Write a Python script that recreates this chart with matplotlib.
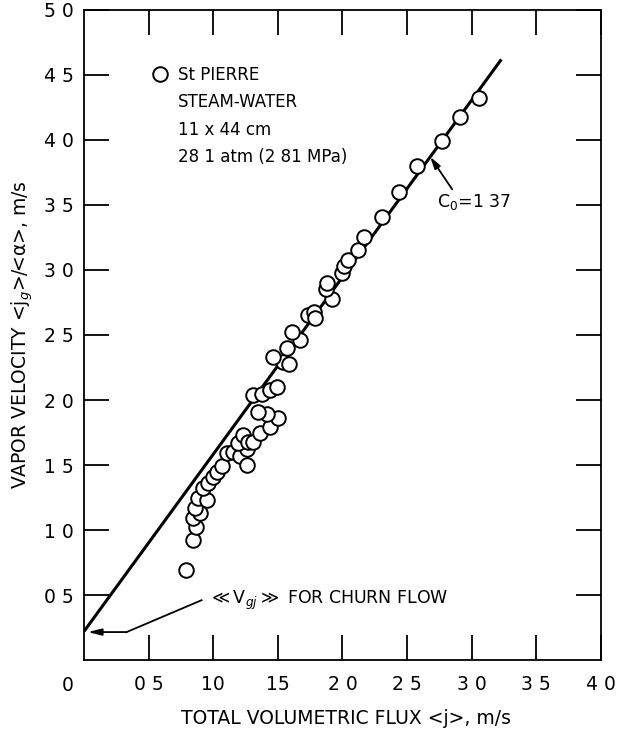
import matplotlib
matplotlib.use("Agg")
import matplotlib.pyplot as plt

# St Pierre steam-water data
j = [0.79, 0.84, 0.87, 0.84, 0.90, 0.86, 0.88, 0.95, 0.92, 0.96, 1.00, 1.03,
     1.07, 1.11, 1.15, 1.21, 1.26, 1.26, 1.19, 1.23, 1.27, 1.31, 1.36, 1.44,
     1.50, 1.42, 1.35, 1.31, 1.38, 1.44, 1.49, 1.54, 1.59, 1.46, 1.57, 1.67,
     1.61, 1.73, 1.78, 1.79, 1.92, 1.87, 1.88, 2.00, 2.01, 2.04, 2.12, 2.17,
     2.31, 2.44, 2.58, 2.77, 2.91, 3.06]
vg = [0.69, 0.92, 1.02, 1.09, 1.13, 1.17, 1.25, 1.23, 1.32, 1.36, 1.41, 1.45,
      1.49, 1.59, 1.60, 1.57, 1.50, 1.62, 1.67, 1.73, 1.68, 1.68, 1.75, 1.79,
      1.86, 1.89, 1.91, 2.04, 2.05, 2.08, 2.10, 2.29, 2.28, 2.33, 2.40, 2.46,
      2.52, 2.65, 2.68, 2.63, 2.78, 2.85, 2.90, 2.98, 3.03, 3.08, 3.15, 3.25,
      3.41, 3.60, 3.80, 3.99, 4.18, 4.32]

# drift flux line, C0 = 1.37
j_line = [0.0, 3.23]
vg_line = [0.22, 4.62]

x_ticks = [0.5, 1.0, 1.5, 2.0, 2.5, 3.0, 3.5, 4.0]
x_labels = ["0 5", "10", "15", "2 0", "2 5", "3 0", "3 5", "4 0"]
y_ticks = [0.5, 1.0, 1.5, 2.0, 2.5, 3.0, 3.5, 4.0, 4.5, 5.0]
y_labels = ["0 5", "1 0", "1 5", "2 0", "2 5", "3 0", "3 5", "4 0", "4 5", "5 0"]

fig = plt.figure(figsize=(6.22, 7.34), dpi=100)
ax = fig.add_axes([0.135, 0.1008, 0.831, 0.8856])

ax.plot(j_line, vg_line, color="black", lw=2.2, solid_capstyle="butt", zorder=2)
pts, = ax.plot(j, vg, "o", mfc="white", mec="black", ms=10.5, mew=1.4,
               label="St PIERRE", zorder=3)

ax.set_xlim(0, 4)
ax.set_ylim(0, 5)
ax.set_xticks(x_ticks)
ax.set_xticklabels(x_labels)
ax.set_yticks(y_ticks)
ax.set_yticklabels(y_labels)
ax.tick_params(direction="in", length=18, width=1.3, top=True, right=True,
               labelsize=13.5, colors="black")
ax.tick_params(axis="x", pad=11)
ax.tick_params(axis="y", pad=7)
for s in ax.spines.values():
    s.set_linewidth(1.3)

# shared "0" at the corner
ax.text(-0.031, -0.0385, "0", transform=ax.transAxes, ha="center",
        va="center", fontsize=13.5)

ax.set_xlabel("TOTAL VOLUMETRIC FLUX <j>, m/s", fontsize=13.5)
ax.xaxis.set_label_coords(0.507, -0.075)
ax.set_ylabel("VAPOR VELOCITY <j$_g$>/<α>, m/s", fontsize=13.5, va="center")
ax.yaxis.set_label_coords(-0.119, 0.5)

# legend block
ax.legend(handles=[pts], loc="center left", bbox_to_anchor=(0.131, 0.9),
          frameon=False, handlelength=1.0, handletextpad=0.6, borderpad=0,
          borderaxespad=0, fontsize=12)
info = ["STEAM-WATER", "11 x 44 cm", "28 1 atm (2 81 MPa)"]
for txt, yy in zip(info, [0.858, 0.815, 0.774]):
    ax.text(0.182, yy, txt, transform=ax.transAxes, ha="left", va="center",
            fontsize=12)

# C0 label
ax.annotate("", xy=(2.68, 3.87), xytext=(2.85, 3.62),
            arrowprops=dict(arrowstyle="-|>,head_length=0.7,head_width=0.2",
                            color="black", lw=1.3, shrinkA=0, shrinkB=0))
ax.text(2.73, 3.52, "C$_0$=1 37", ha="left", va="center", fontsize=12.5)

# churn flow label
ax.plot([0.91, 0.33], [0.46, 0.215], color="black", lw=1.3)
ax.annotate("", xy=(0.03, 0.215), xytext=(0.33, 0.215),
            arrowprops=dict(arrowstyle="-|>,head_length=0.8,head_width=0.2",
                            color="black", lw=1.3, shrinkA=0, shrinkB=0))
ax.text(0.96, 0.46, r"$\ll$V$_{gj}$$\gg$ FOR CHURN FLOW", ha="left",
        va="center", fontsize=12.5)

fig.savefig("out.png", dpi=100)
